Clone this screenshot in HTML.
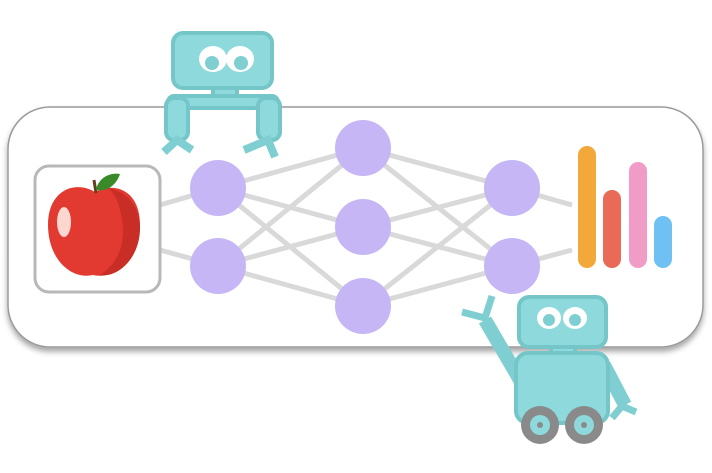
<!DOCTYPE html>
<html><head><style>body{margin:0;background:#fff}svg{display:block}</style></head><body>
<svg width="712" height="473" viewBox="0 0 712 473" xmlns="http://www.w3.org/2000/svg">
<defs><filter id="sh" x="-5%" y="-5%" width="110%" height="120%"><feDropShadow dx="0" dy="4" stdDeviation="3" flood-color="#000" flood-opacity="0.35"/></filter></defs>
<rect x="8" y="107" width="695" height="240" rx="42" fill="#fff" stroke="#9a9a9a" stroke-width="1.5" filter="url(#sh)"/>
<g stroke="#d9d9d9" stroke-width="5" fill="none">
<line x1="160" y1="205" x2="218" y2="188"/><line x1="160" y1="250" x2="218" y2="266"/>
<line x1="218" y1="188" x2="363" y2="148"/><line x1="218" y1="188" x2="363" y2="227"/><line x1="218" y1="188" x2="363" y2="306"/>
<line x1="218" y1="266" x2="363" y2="148"/><line x1="218" y1="266" x2="363" y2="227"/><line x1="218" y1="266" x2="363" y2="306"/>
<line x1="512" y1="188" x2="363" y2="148"/><line x1="512" y1="188" x2="363" y2="227"/><line x1="512" y1="188" x2="363" y2="306"/>
<line x1="512" y1="266" x2="363" y2="148"/><line x1="512" y1="266" x2="363" y2="227"/><line x1="512" y1="266" x2="363" y2="306"/>
<line x1="512" y1="188" x2="572" y2="205"/><line x1="512" y1="266" x2="572" y2="250"/>
</g>
<g fill="#c6b6f6">
<circle cx="218" cy="188" r="28"/><circle cx="218" cy="266" r="28"/>
<circle cx="363" cy="148" r="28"/><circle cx="363" cy="227" r="28"/><circle cx="363" cy="306" r="28"/>
<circle cx="512" cy="188" r="28"/><circle cx="512" cy="266" r="28"/>
</g>
<rect x="35" y="166" width="125" height="126" rx="14" fill="#fff" stroke="#b8b8b8" stroke-width="3"/>
<path d="M95 192 C75 180 48 190 48 225 C48 258 70 280 93 275 C115 280 140 260 140 225 C140 188 112 182 95 192Z" fill="#e23a30"/>
<path d="M108 188 C130 192 140 210 140 228 C140 258 118 278 100 275 C120 262 128 240 120 210 C118 200 114 193 108 188Z" fill="#c82d26"/>
<ellipse cx="64" cy="222" rx="7" ry="15" fill="#fbd7cf"/>
<path d="M96 193 L94 180" stroke="#6b3b1f" stroke-width="3"/>
<path d="M96 190 C98 178 110 172 120 174 C116 186 106 192 96 190Z" fill="#3a8a2a"/>
<g><rect x="578" y="146" width="18" height="122" rx="9" fill="#f3a93a"/>
<rect x="603" y="190" width="18" height="78" rx="9" fill="#e86a57"/>
<rect x="629" y="162" width="18" height="106" rx="9" fill="#f09cc6"/>
<rect x="654" y="216" width="18" height="52" rx="9" fill="#6fc0f3"/></g>
<!-- top robot -->
<g fill="#8dd9dc" stroke="#74c6c9" stroke-width="4" stroke-linejoin="round">
<rect x="173" y="33" width="99" height="55" rx="10"/>
<rect x="213" y="88" width="24" height="8"/>
<rect x="168" y="96" width="110" height="12" rx="6"/>
<rect x="166" y="98" width="22" height="42" rx="8"/><rect x="258" y="98" width="22" height="42" rx="8"/>
</g>
<g stroke="#7fcfd2" stroke-width="8" fill="none" stroke-linecap="butt">
<path d="M164 152 L177 140 L192 150"/><path d="M244 150 L268 140 L275 157"/>
</g>
<g fill="#fff"><ellipse cx="213" cy="59" rx="14" ry="13"/><ellipse cx="240" cy="59" rx="14" ry="13"/></g>
<g fill="#7fcfd2"><circle cx="212" cy="63" r="7"/><circle cx="241" cy="63" r="7"/></g>
<!-- bottom robot -->
<g stroke="#7fcfd2" stroke-width="14" fill="none"><path d="M520 380 L485 320"/><path d="M604 365 L625 405"/></g>
<g stroke="#7fcfd2" stroke-width="7" fill="none"><path d="M462 312 L485 318 L492 296"/><path d="M612 418 L622 406 L636 412"/></g>
<g fill="#8dd9dc" stroke="#74c6c9" stroke-width="4" stroke-linejoin="round">
<rect x="519" y="297" width="87" height="50" rx="10"/>
<rect x="551" y="347" width="24" height="7"/>
<rect x="516" y="353" width="92" height="70" rx="12"/>
</g>
<g fill="#fff"><ellipse cx="549" cy="318" rx="12" ry="11"/><ellipse cx="575" cy="318" rx="12" ry="11"/></g>
<g fill="#7fcfd2"><circle cx="549" cy="320" r="6"/><circle cx="575" cy="320" r="6"/></g>
<g><circle cx="540" cy="425" r="19" fill="#8a8a8a"/><circle cx="540" cy="425" r="10" fill="#8dd9dc"/><circle cx="540" cy="425" r="3" fill="#8a8a8a"/>
<circle cx="584" cy="425" r="19" fill="#8a8a8a"/><circle cx="584" cy="425" r="10" fill="#8dd9dc"/><circle cx="584" cy="425" r="3" fill="#8a8a8a"/></g>
</svg>
</body></html>
